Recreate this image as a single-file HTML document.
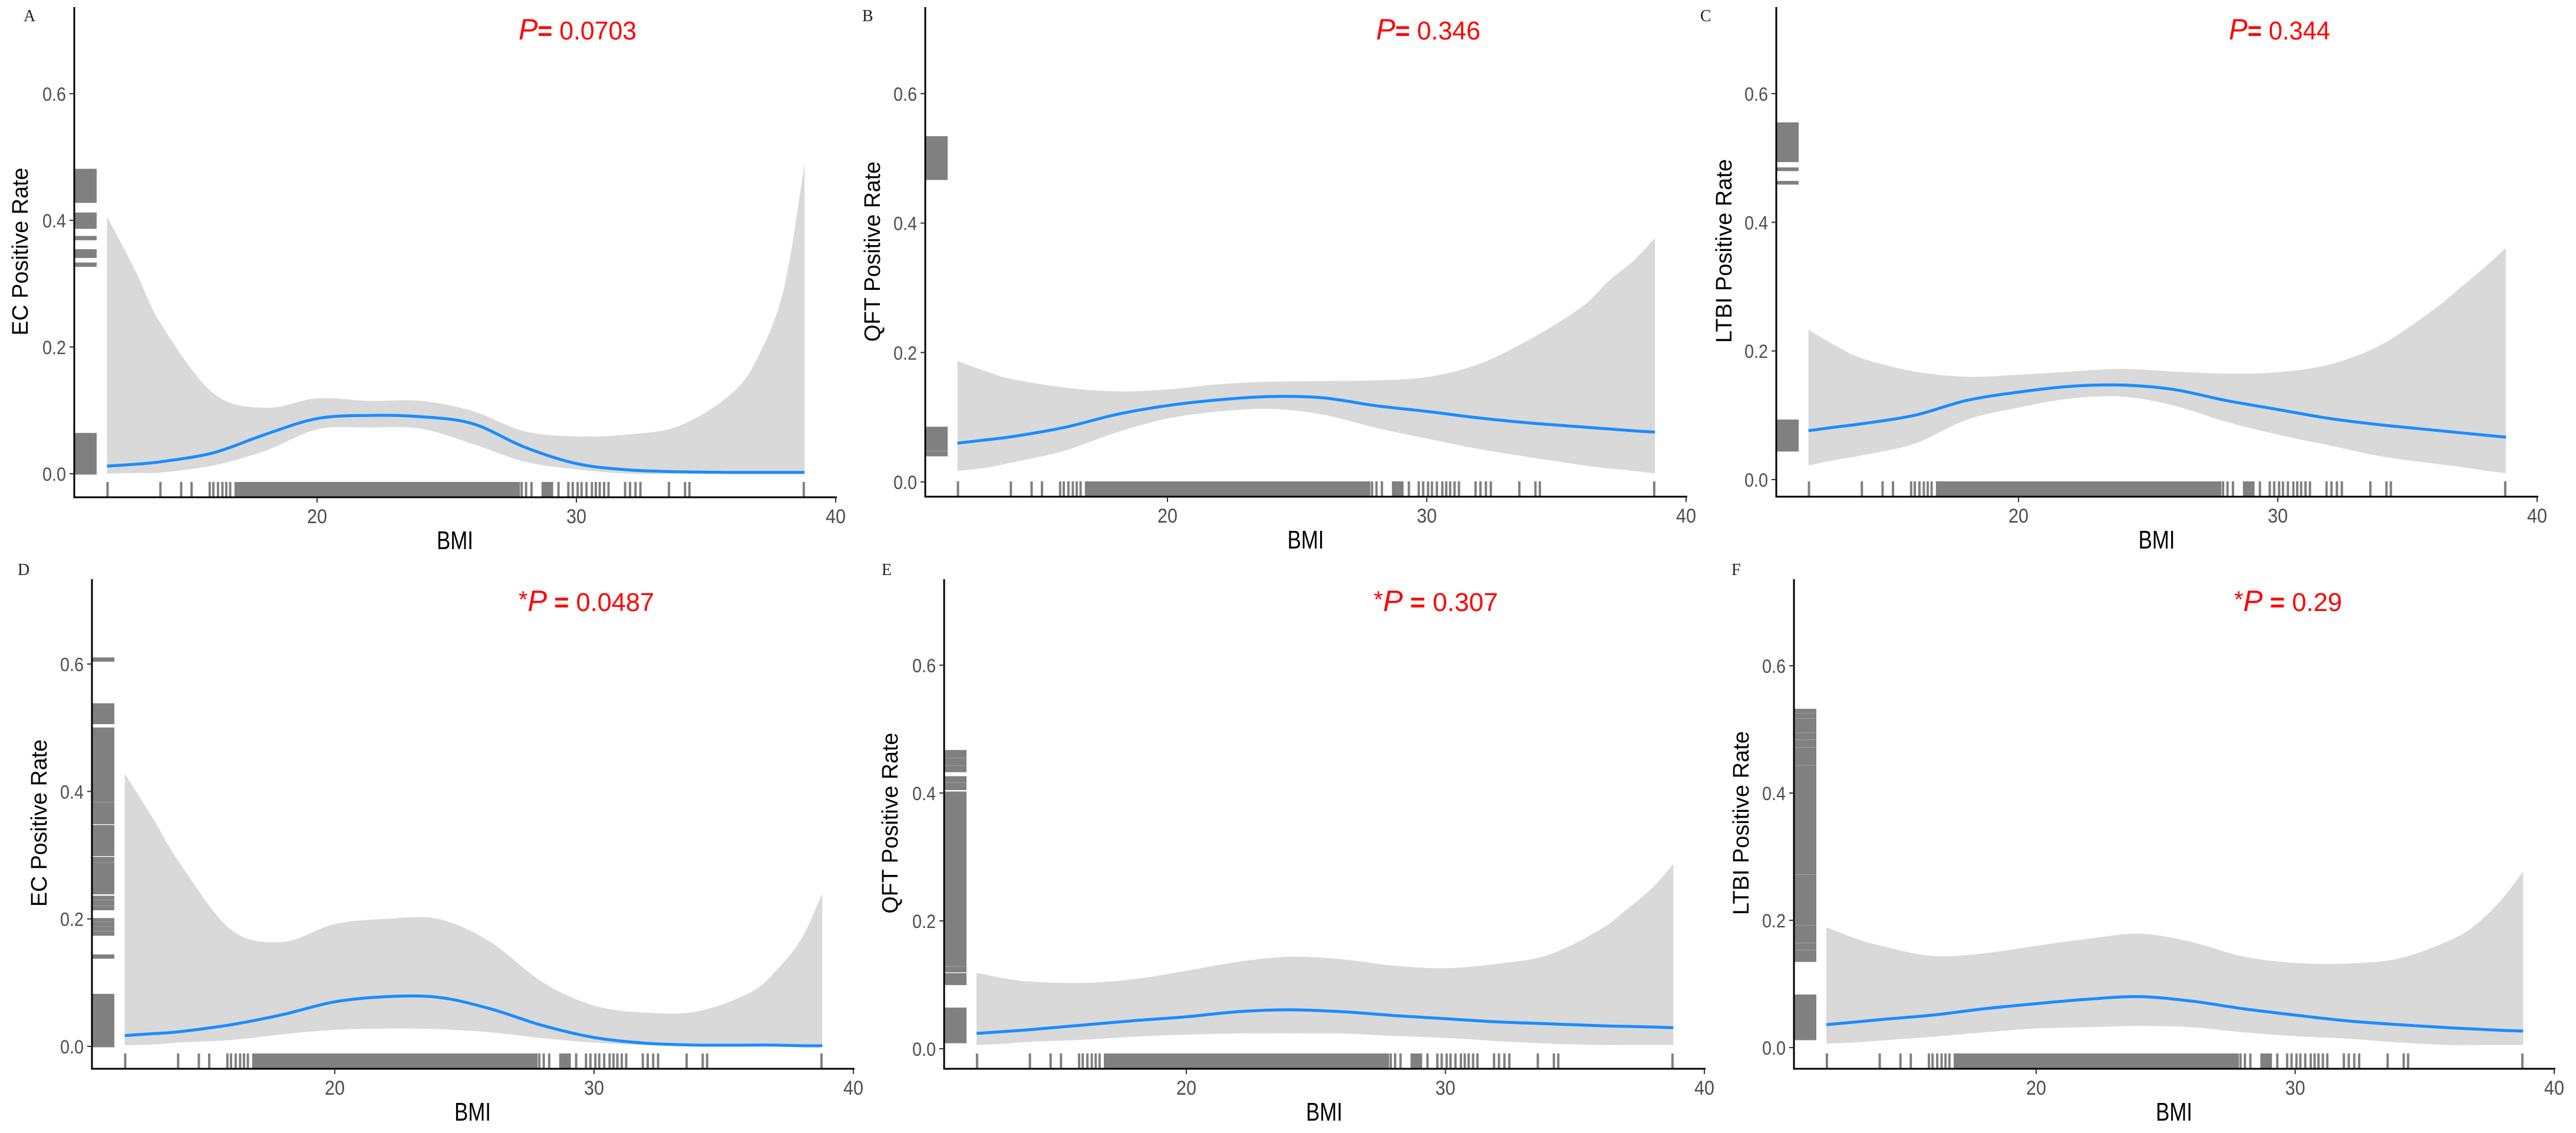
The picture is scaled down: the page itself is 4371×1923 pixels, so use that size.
<!DOCTYPE html>
<html><head><meta charset="utf-8"><style>
html,body{margin:0;padding:0;background:#fff;}
svg{display:block;}
</style></head><body>
<svg id="fig" xmlns="http://www.w3.org/2000/svg" width="4371" height="1923" viewBox="0 0 4371 1923"></svg>
<script>
const gridX = [11.9,13,14,16,18,20,22,24,26,28,30,32,34,36,37,38,38.8];
const fitA = [.012,.015,.019,.033,.062,.087,.092,.090,.079,.042,.016,.006,.003,.002,.002,.002,.002];
const upA  = [.406,.32,.235,.127,.104,.119,.115,.115,.099,.067,.059,.062,.076,.127,.184,.292,.489];
const loA  = [0,.001,.002,.013,.036,.070,.073,.071,.047,.019,.007,0,0,0,0,0,0];
const fitB = [.060,.065,.070,.084,.104,.118,.127,.132,.130,.118,.109,.099,.091,.085,.082,.079,.077];
const upB  = [.187,.171,.159,.146,.140,.143,.151,.155,.156,.157,.162,.182,.221,.271,.310,.343,.377];
const loB  = [.017,.022,.030,.048,.076,.098,.109,.113,.104,.084,.067,.051,.038,.026,.021,.017,.013];
const fitC = [.076,.082,.087,.100,.123,.136,.145,.147,.140,.123,.109,.095,.085,.077,.073,.069,.066];
const upC  = [.233,.207,.188,.168,.160,.163,.168,.172,.168,.165,.167,.179,.210,.264,.297,.331,.360];
const loC  = [.022,.031,.038,.056,.093,.112,.126,.129,.115,.090,.070,.053,.036,.025,.020,.014,.010];
const fitD = [.017,.020,.023,.034,.050,.070,.078,.077,.059,.033,.014,.005,.002,.002,.002,.001,.001];
const upD  = [.428,.357,.289,.183,.164,.192,.200,.200,.164,.101,.064,.053,.055,.084,.118,.169,.240];
const loD  = [.002,.003,.006,.010,.019,.026,.028,.027,.022,.013,.006,.002,.002,.002,.002,.002,.002];
const fitE = [.024,.027,.030,.037,.044,.050,.058,.061,.058,.052,.047,.042,.039,.036,.035,.034,.033];
const upE  = [.119,.110,.105,.103,.109,.122,.136,.144,.140,.130,.126,.133,.147,.187,.218,.252,.289];
const loE  = [.006,.008,.011,.014,.019,.022,.024,.024,.024,.020,.017,.012,.008,.006,.006,.006,.006];
const fitF = [.036,.040,.044,.051,.061,.069,.076,.080,.073,.061,.051,.042,.036,.031,.029,.027,.026];
const upF  = [.189,.172,.160,.144,.148,.160,.171,.179,.166,.143,.133,.132,.140,.169,.194,.234,.277];
const loF  = [.006,.008,.011,.017,.024,.030,.032,.034,.032,.024,.018,.014,.008,.004,.004,.004,.004];

const rugSingles = [11.92,13.96,14.76,15.16,15.86,16.0,16.18,16.35,16.5,16.65,27.89,28.06,28.27,29.31,29.69,29.86,30.05,30.2,30.39,30.6,30.75,30.9,31.07,31.24,31.88,32.07,32.28,32.47,33.57,34.19,34.36,38.77];
const rugBlocks = [[16.86,27.78],[28.7,29.06]];

const yRugA = [[.437,.48],[.429,.436],[.395,.411],[.388,.393],[.370,.374],[.347,.353],[.342,.345],[.328,.332],[0,.063]];
const yRugB = [[.479,.533],[.468,.477],[.049,.084],[.041,.046]];
const yRugC = [[.510,.554],[.495,.508],[.481,.484],[.460,.463],[.052,.092],[.045,.050]];
const yRugD = [[.605,.609],[.534,.537],[.528,.532],[.520,.526],[.513,.518],[.507,.511],[.487,.499],[.471,.485],[.463,.469],[.442,.461],[.385,.440],[.350,.382],[.300,.346],[.290,.296],[.278,.287],[.240,.276],[.231,.235],[.222,.228],[.215,.219],[.197,.200],[.190,.194],[.182,.187],[.175,.179],[.139,.143],[0,.081]];
const yRugE = [[.462,.466],[.456,.460],[.444,.453],[.434,.441],[.418,.425],[.406,.415],[.269,.401],[.130,.267],[.121,.127],[.101,.117],[.010,.063]];
const yRugF = [[.527,.531],[.519,.524],[.504,.516],[.496,.502],[.485,.493],[.473,.482],[.463,.470],[.445,.461],[.273,.442],[.225,.270],[.194,.223],[.183,.191],[.166,.181],[.155,.163],[.136,.152],[.013,.082]];

const yTicks = [0,0.2,0.4,0.6];
const yTickLabels = ["0.0","0.2","0.4","0.6"];
const xTicks = [20,30,40];
const xTickLabels = ["20","30","40"];

const panels = [
 {id:'a',letter:'A',lx:40,ly:36,left:126,x20:538,x40:1418,y0:804,y06:159,top:12,bottom:844,fit:fitA,up:upA,lo:loA,yr:yRugA,ytitle:'EC Positive Rate',tx:34,ty:427,tl:285,star:false,pval:'0.0703',px:880,pw:200,pb:67},
 {id:'b',letter:'B',lx:1463,ly:36,left:1570,x20:1981,x40:2861,y0:818,y06:159,top:12,bottom:843,fit:fitB,up:upB,lo:loB,yr:yRugB,ytitle:'QFT Positive Rate',tx:1480,ty:427,tl:306,star:false,pval:'0.346',px:2335,pw:177,pb:67},
 {id:'c',letter:'C',lx:2885,ly:36,left:3014,x20:3425,x40:4305,y0:814,y06:159,top:12,bottom:843,fit:fitC,up:upC,lo:loC,yr:yRugC,ytitle:'LTBI Positive Rate',tx:2925,ty:426,tl:312,star:false,pval:'0.344',px:3782,pw:172,pb:67},
 {id:'d',letter:'D',lx:30,ly:976,left:156,x20:568,x40:1448,y0:1776,y06:1127,top:983,bottom:1814,fit:fitD,up:upD,lo:loD,yr:yRugD,ytitle:'EC Positive Rate',tx:66,ty:1397,tl:284,star:true,pval:'0.0487',px:880,pw:230,pb:1037},
 {id:'e',letter:'E',lx:1496,ly:976,left:1602,x20:2013,x40:2892,y0:1780,y06:1129,top:983,bottom:1814,fit:fitE,up:upE,lo:loE,yr:yRugE,ytitle:'QFT Positive Rate',tx:1510,ty:1397,tl:307,star:true,pval:'0.307',px:2331,pw:211,pb:1037},
 {id:'f',letter:'F',lx:2938,ly:976,left:3044,x20:3455,x40:4334,y0:1778,y06:1130,top:983,bottom:1814,fit:fitF,up:upF,lo:loF,yr:yRugF,ytitle:'LTBI Positive Rate',tx:2954,ty:1397,tl:312,star:true,pval:'0.29',px:3791,pw:183,pb:1037}
];

const NS='http://www.w3.org/2000/svg';
const svg=document.getElementById('fig');
function mk(tag,attrs,parent){const e=document.createElementNS(NS,tag);for(const k in attrs)e.setAttribute(k,attrs[k]);(parent||svg).appendChild(e);return e;}
function smooth(pts){
  let d='M'+pts[0][0]+','+pts[0][1];
  for(let i=0;i<pts.length-1;i++){
    const p0=pts[i-1]||pts[i],p1=pts[i],p2=pts[i+1],p3=pts[i+2]||p2;
    const c1=[p1[0]+(p2[0]-p0[0])/6,p1[1]+(p2[1]-p0[1])/6];
    const c2=[p2[0]-(p3[0]-p1[0])/6,p2[1]-(p3[1]-p1[1])/6];
    d+=' C'+c1[0]+','+c1[1]+' '+c2[0]+','+c2[1]+' '+p2[0]+','+p2[1];
  }
  return d;
}

panels.forEach(p=>{
  const sx=v=>p.x20+(v-20)*(p.x40-p.x20)/20;
  const sy=v=>p.y0-v*(p.y0-p.y06)/0.6;
  const g=mk('g',{});
  
  

  const lt=mk('text',{x:p.lx,y:p.ly,'font-family':'Liberation Serif, serif','font-size':28,fill:'#222'},g);
  
  
  lt.textContent=p.letter;

  // ribbon
  const upPts=gridX.map((x,i)=>[sx(x),sy(p.up[i])]);
  const loPts=gridX.map((x,i)=>[sx(x),sy(p.lo[i])]).reverse();
  let d=smooth(upPts)+' L'+loPts[0][0]+','+loPts[0][1]+smooth(loPts).replace(/^M[^C]*/,' ')+' Z';
  const rib=mk('path',{d:d,fill:'#d9d9d9',stroke:'none'},g);
  
  

  const fitPts=gridX.map((x,i)=>[sx(x),sy(p.fit[i])]);
  const ln=mk('path',{d:smooth(fitPts),fill:'none',stroke:'#1a8cff','stroke-width':5},g);
  
  

  // x rug
  const rg=mk('g',{fill:'#808080'},g);
  
  
  rugSingles.forEach(v=>{mk('rect',{x:sx(v)-2,y:p.bottom-26,width:4,height:25},rg);});
  rugBlocks.forEach(b=>{mk('rect',{x:sx(b[0])-2,y:p.bottom-26,width:sx(b[1])-sx(b[0])+4,height:25},rg);});

  // y rug
  const yg=mk('g',{fill:'#808080'},g);
  
  
  p.yr.forEach(b=>{const t=sy(b[1])-1.5,bt=sy(b[0])+1.5;mk('rect',{x:p.left,y:t,width:38,height:bt-t},yg);});

  // axes
  const ax=mk('path',{d:'M'+p.left+','+p.top+' L'+p.left+','+p.bottom+' L'+(p.x40+2)+','+p.bottom,fill:'none',stroke:'#000','stroke-width':3},g);
  
  

  yTicks.forEach((v,i)=>{
    mk('line',{x1:p.left-8,x2:p.left,y1:sy(v),y2:sy(v),stroke:'#333','stroke-width':2},g);
    const t=mk('text',{x:p.left-14,y:sy(v)+12,'text-anchor':'end','font-family':'Liberation Sans, sans-serif','font-size':32,fill:'#4d4d4d',textLength:40,lengthAdjust:'spacingAndGlyphs'},g);
    
    
    t.textContent=yTickLabels[i];
  });
  xTicks.forEach((v,i)=>{
    mk('line',{x1:sx(v),x2:sx(v),y1:p.bottom,y2:p.bottom+9,stroke:'#333','stroke-width':2},g);
    const t=mk('text',{x:sx(v),y:p.bottom+44,'text-anchor':'middle','font-family':'Liberation Sans, sans-serif','font-size':34,fill:'#4d4d4d',textLength:34,lengthAdjust:'spacingAndGlyphs'},g);
    
    
    t.textContent=xTickLabels[i];
  });
  const xt=mk('text',{x:(p.left+p.x40)/2,y:p.bottom+88,'text-anchor':'middle','font-family':'Liberation Sans, sans-serif','font-size':44,fill:'#000',textLength:62,lengthAdjust:'spacingAndGlyphs'},g);
  
  
  xt.textContent='BMI';
  const yt=mk('text',{x:0,y:0,transform:'translate('+(p.tx+13)+','+p.ty+') rotate(-90)','text-anchor':'middle','font-family':'Liberation Sans, sans-serif','font-size':38,fill:'#000',textLength:p.tl,lengthAdjust:'spacingAndGlyphs'},g);
  
  
  yt.textContent=p.ytitle;

  const pt=mk('text',{x:p.px,y:p.pb,'font-family':'Liberation Sans, sans-serif','font-size':44,fill:'#ff0000',textLength:p.pw,lengthAdjust:'spacingAndGlyphs'},g);
  
  
  if(p.star){const s=mk('tspan',{'font-size':40,dy:-6},pt);s.textContent='*';const s2=mk('tspan',{'font-style':'italic','font-size':50,dy:6},pt);s2.textContent='P';const s3=mk('tspan',{'font-weight':'bold'},pt);s3.textContent=' = ';const s4=mk('tspan',{},pt);s4.textContent=p.pval;}
  else{const s2=mk('tspan',{'font-style':'italic','font-size':50},pt);s2.textContent='P';const s3=mk('tspan',{'font-weight':'bold'},pt);s3.textContent='= ';const s4=mk('tspan',{},pt);s4.textContent=p.pval;}
});
</script>
</body></html>
